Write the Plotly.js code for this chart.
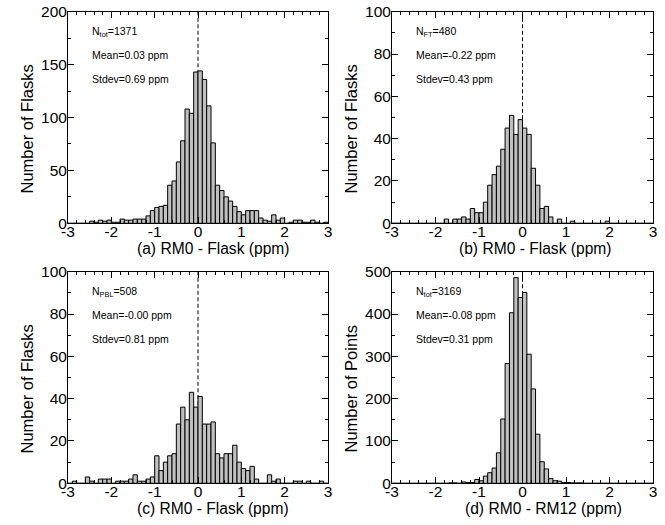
<!DOCTYPE html>
<html><head><meta charset="utf-8">
<script src="https://cdn.plot.ly/plotly-3.0.1.min.js"></script>
<style>html,body{margin:0;padding:0;background:#fff}#chart{width:665px;height:525px}</style>
</head><body><div id="chart"></div>
<script>
// Histogram bins: 60 bins of 0.1 ppm from -3 to 3
const binStart = -3.0;
const binWidth = 0.1;
const countsA = [0,0,0,0,0, 2,1,3,2,3, 1,1,4,3,3, 4,4,4,7,12, 15,16,17,36,40, 58,78,108,104,143,
                 144,136,111,76,36, 31,25,21,16,11, 8,12,12,12,5, 3,2,8,3,5, 0,1,3,3,1, 1,3,1,0,1];
const countsB = [0,0,0,0,0, 0,0,0,0,0, 0,0,2,0,2, 2,3,2,7,5, 5,10,18,23,27, 35,45,51,42,49,
                 45,42,26,18,7, 8,3,0,2,0, 0,1,0,0,0, 0,0,0,0,1, 0,0,0,0,0, 0,0,0,0,0];
const countsC = [0,1,0,0,3, 1,0,2,2,2, 0,1,1,1,2, 4,1,1,2,3, 13,6,10,13,14, 28,36,30,43,36,
                 41,28,28,29,14, 12,14,14,18,10, 7,6,8,2,0, 0,4,1,2,0, 0,0,1,1,0, 1,0,0,1,0];
const countsD = [0,0,0,0,0, 0,0,0,0,0, 0,0,0,1,1, 0,3,2,2,9, 6,17,25,36,72, 152,283,403,486,439,
                 451,305,223,116,51, 34,11,6,5,2, 2,1,1,1,0, 0,0,0,0,0, 0,0,0,0,0, 0,0,0,0,0];

const xTitles = ['(a) RM0 - Flask (ppm)', '(b) RM0 - Flask (ppm)', '(c) RM0 - Flask (ppm)', '(d) RM0 - RM12 (ppm)'];
const yTitles = ['Number of Flasks', 'Number of Flasks', 'Number of Flasks', 'Number of Points'];
const nLabels = ['N<sub>tot</sub>=1371', 'N<sub>FT</sub>=480', 'N<sub>PBL</sub>=508', 'N<sub>tot</sub>=3169'];
const meanLabels = ['Mean=0.03 ppm', 'Mean=-0.22 ppm', 'Mean=-0.00 ppm', 'Mean=-0.08 ppm'];
const stdLabels = ['Stdev=0.69 ppm', 'Stdev=0.43 ppm', 'Stdev=0.81 ppm', 'Stdev=0.31 ppm'];
const xTickVals = [-3, -2, -1, 0, 1, 2, 3];
const xTickText = ['-3', '-2', '-1', '0', '1', '2', '3'];
const yMax = [200, 100, 100, 500];
const yDtick = [50, 20, 20, 100];
const yMinor = [25, 10, 10, 50];

const allCounts = [countsA, countsB, countsC, countsD];
const centers = countsA.map((_, i) => binStart + binWidth * (i + 0.5));

const W = 665, H = 525;
const colPx = [[68, 328], [392, 653]];
const rowPx = [[11.7, 223.3], [271.7, 483.3]];
const colDom = colPx.map(c => [c[0] / W, c[1] / W]);
const rowDom = rowPx.map(r => [1 - r[1] / H, 1 - r[0] / H]);
// title placement (px) as in the reference
const xTitleCx = [213, 535, 213, 543];
const xTitleGap = 25;
const yTitleGap = 42;
const yTitleShift = 12;
const FONT = 'Liberation Sans, Arial, Helvetica, sans-serif';
const FS = 15.5;

const data = [];
const layout = {
  width: W, height: H,
  margin: {l: 0, r: 0, t: 0, b: 0},
  paper_bgcolor: '#fff', plot_bgcolor: '#fff',
  showlegend: false,
  font: {family: FONT, color: '#000', size: FS},
  shapes: [], annotations: []
};

for (let p = 0; p < 4; p++) {
  const sfx = p === 0 ? '' : String(p + 1);
  const col = p % 2, row = Math.floor(p / 2);
  data.push({
    type: 'bar', x: centers, y: allCounts[p], width: binWidth,
    xaxis: 'x' + sfx, yaxis: 'y' + sfx,
    marker: {color: '#c0c0c0', line: {color: '#000', width: 1}},
    hoverinfo: 'x+y'
  });
  layout['xaxis' + sfx] = {
    domain: colDom[col], anchor: 'y' + sfx, range: [-3, 3],
    tickmode: 'array', tickvals: xTickVals, ticktext: xTickText,
    ticks: 'inside', ticklen: 6, tickwidth: 1, tickcolor: '#000',
    ticklabelstandoff: -6,
    showline: true, linecolor: '#000', linewidth: 1, mirror: 'ticks',
    showgrid: false, zeroline: false,
    minor: {dtick: 0.2, tick0: -3, ticks: 'inside', ticklen: 3, tickwidth: 1, tickcolor: '#000', showgrid: false},
    tickfont: {size: FS, family: FONT, color: '#000'}
  };
  layout['yaxis' + sfx] = {
    domain: rowDom[row], anchor: 'x' + sfx, range: [0, yMax[p]],
    tickmode: 'linear', tick0: 0, dtick: yDtick[p],
    ticks: 'inside', ticklen: 6, tickwidth: 1, tickcolor: '#000',
    ticklabelstandoff: -3,
    showline: true, linecolor: '#000', linewidth: 1, mirror: 'ticks',
    showgrid: false, zeroline: false,
    minor: {dtick: yMinor[p], tick0: 0, ticks: 'inside', ticklen: 3, tickwidth: 1, tickcolor: '#000', showgrid: false},
    tickfont: {size: FS, family: FONT, color: '#000'}
  };
  layout.shapes.push({
    type: 'line', layer: 'below', xref: 'x' + sfx, yref: 'y' + sfx + ' domain',
    x0: 0, x1: 0, y0: 0, y1: 1,
    line: {color: '#000', width: 1, dash: '4px,2.5px'}
  });
  // axis titles
  layout.annotations.push({
    text: xTitles[p], xref: 'paper', yref: 'paper',
    x: xTitleCx[p] / W, y: 1 - (rowPx[row][1] + xTitleGap) / H,
    xanchor: 'center', yanchor: 'middle', showarrow: false,
    font: {size: 15.6, family: FONT, color: '#000'}
  });
  layout.annotations.push({
    text: yTitles[p], xref: 'paper', yref: 'paper', textangle: -90,
    x: (colPx[col][0] - yTitleGap) / W,
    y: 1 - ((rowPx[row][0] + rowPx[row][1]) / 2 + yTitleShift) / H,
    xanchor: 'center', yanchor: 'middle', showarrow: false,
    font: {size: 16.5, family: FONT, color: '#000'}
  });
  const texts = [nLabels[p], meanLabels[p], stdLabels[p]];
  const offs = [20.5, 43, 67];
  texts.forEach((t, k) => {
    layout.annotations.push({
      text: t, xref: 'x' + sfx + ' domain', yref: 'y' + sfx + ' domain',
      x: 22 / 260, y: 1 - offs[k] / 211.6, xanchor: 'left', yanchor: 'middle',
      showarrow: false, font: {size: 10.5, family: FONT, color: '#000'}
    });
  });
}

Plotly.newPlot('chart', data, layout, {displayModeBar: false, staticPlot: true});
</script>
</body></html>
